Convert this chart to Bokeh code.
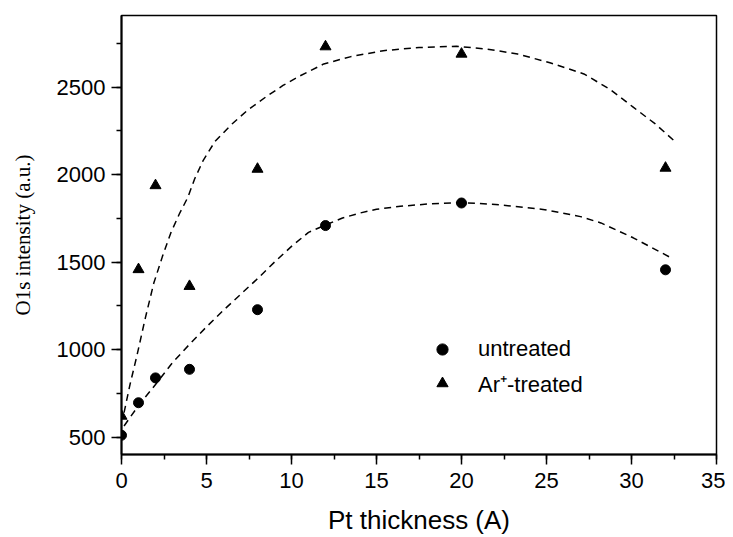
from bokeh.plotting import figure
from bokeh.models import SingleIntervalTicker, Range1d, Legend, LegendItem
from bokeh.embed import file_html
from bokeh.resources import INLINE

# Data
thickness = [0, 1, 2, 4, 8, 12, 20, 32]
untreated = [510, 696, 838, 887, 1228, 1709, 1838, 1456]
ar_treated = [620, 1458, 1938, 1362, 2032, 2732, 2690, 2038]

fit_untreated_x = [0.15, 1, 2, 3, 4, 5, 6, 7, 8, 9, 10, 11, 12, 13, 14, 15, 16.4, 18, 20, 22, 24.9, 27, 28.2, 30.1, 32.4]
fit_untreated_y = [563, 680, 800, 925, 1030, 1130, 1225, 1315, 1405, 1500, 1590, 1670, 1712, 1752, 1780, 1802, 1819, 1832, 1840, 1830, 1800, 1760, 1724, 1639, 1521]

fit_ar_x = [0.15, 0.5, 0.9, 1.4, 1.9, 2.4, 2.9, 3.4, 3.9, 4.3, 4.8, 5.5, 6.5, 7.4, 8.5, 9.5, 10.5, 11.9, 13.5, 15.4, 17.5, 19.7, 21.5, 23.3, 25.2, 27.2, 28.7, 30.1, 31.4, 32.6]
fit_ar_y = [639, 800, 962, 1180, 1380, 1530, 1667, 1775, 1870, 1975, 2080, 2190, 2290, 2367, 2445, 2510, 2565, 2633, 2675, 2709, 2727, 2734, 2718, 2690, 2640, 2576, 2490, 2386, 2290, 2186]

x_title = "Pt thickness (A)"
y_title = "O1s intensity (a.u.)"
label_untreated = "untreated"
label_ar = "Ar\u207a-treated"

p = figure(width=725, height=537, output_backend="svg", toolbar_location=None,
           x_range=Range1d(0, 35), y_range=Range1d(400, 2910),
           min_border_left=121, min_border_right=9, min_border_top=15, min_border_bottom=82)
p.grid.visible = False
p.outline_line_color = "black"
p.outline_line_width = 1.5
p.background_fill_color = "white"
p.border_fill_color = "white"

p.xaxis.ticker = SingleIntervalTicker(interval=5, num_minor_ticks=2)
p.yaxis.ticker = SingleIntervalTicker(interval=500, num_minor_ticks=2)

for ax in (p.xaxis[0], p.yaxis[0]):
    ax.axis_line_width = 2
    ax.axis_line_color = "black"
    ax.major_tick_line_color = "black"
    ax.minor_tick_line_color = "black"
    ax.major_tick_line_width = 1.5
    ax.minor_tick_line_width = 1.5
    ax.major_tick_out = 10
    ax.major_tick_in = 0
    ax.minor_tick_out = 5
    ax.minor_tick_in = 0
    ax.major_label_text_font = "Liberation Sans"
    ax.major_label_text_font_size = "22px"
    ax.major_label_text_color = "black"
    ax.axis_label_text_color = "black"
    ax.axis_label_text_font_style = "normal"

p.xaxis.major_label_standoff = 8
p.yaxis.major_label_standoff = 6
p.xaxis.axis_label = x_title
p.xaxis.axis_label_text_font = "Liberation Sans"
p.xaxis.axis_label_text_font_size = "26px"
p.xaxis.axis_label_standoff = 14
p.yaxis.axis_label = y_title
p.yaxis.axis_label_text_font = "Liberation Serif"
p.yaxis.axis_label_text_font_size = "21px"
p.yaxis.axis_label_standoff = 19

p.line(fit_ar_x, fit_ar_y, line_color="black", line_width=1.5, line_dash="7 5")
p.line(fit_untreated_x, fit_untreated_y, line_color="black", line_width=1.5, line_dash="7 5")

r1 = p.scatter(thickness, untreated, marker="circle", size=10, fill_color="black", line_color="black")
r2 = p.scatter(thickness, ar_treated, marker="triangle", size=11, fill_color="black", line_color="black")

legend = Legend(items=[LegendItem(label=label_untreated, renderers=[r1]),
                       LegendItem(label=label_ar, renderers=[r2])],
                location=(307, 54), orientation="vertical",
                glyph_width=28, glyph_height=34, label_height=34, spacing=0,
                padding=0, margin=0, label_standoff=22,
                label_text_font="Liberation Sans", label_text_font_size="22px",
                label_text_color="black",
                border_line_alpha=0, background_fill_alpha=0)
p.add_layout(legend, "center")

open("out.html", "w").write(file_html(p, INLINE))
